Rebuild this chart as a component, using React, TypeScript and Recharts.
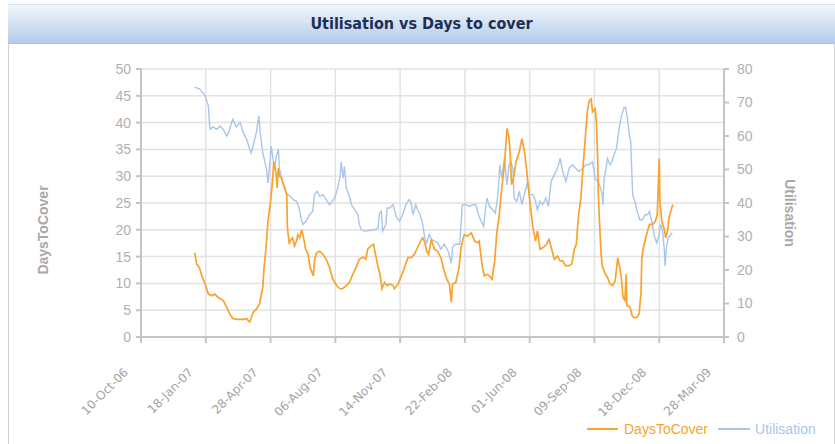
import React from 'react'
import { LineChart, Line, XAxis, YAxis, CartesianGrid } from 'recharts'

// x positions are days since 10-Oct-06
const xTickDays = [0, 100, 200, 300, 400, 500, 600, 700, 800, 900]
const xTickLabels = [
    '10-Oct-06', '18-Jan-07', '28-Apr-07', '06-Aug-07', '14-Nov-07',
    '22-Feb-08', '01-Jun-08', '09-Sep-08', '18-Dec-08', '28-Mar-09',
]
const coverTicks = [0, 5, 10, 15, 20, 25, 30, 35, 40, 45, 50]
const utilTicks = [0, 10, 20, 30, 40, 50, 60, 70, 80]

const coverDays = [
    83, 86, 90, 94, 99, 104, 109, 114, 119, 127, 132, 137, 142, 150, 158, 163, 168, 173, 178, 183,
    188, 190, 193, 196, 200, 203, 205, 207, 209, 210, 212, 214, 217, 219, 222, 225, 226, 229,
    230, 234, 237, 240, 242, 245, 248, 251, 254, 258, 261, 266, 268, 271, 276, 281, 286, 291, 296, 302,
    307, 311, 317, 322, 327, 332, 337, 343, 347, 350, 355, 359, 362, 366, 369, 372, 376, 380,
    384, 389, 391, 397, 402, 407, 412, 417, 422, 427, 433, 435, 438, 441, 444, 448, 453, 458,
    463, 468, 472, 476, 479, 481, 486, 491, 494, 499, 504, 510, 515, 520, 522, 527, 530, 534,
    538, 542, 546, 549, 553, 557, 561, 565, 568, 570, 572, 575, 579, 584, 588, 592, 595, 598, 602, 605,
    609, 612, 616, 621, 626, 630, 634, 638, 643, 647, 651, 655, 661, 665, 669, 672, 675, 679, 683, 687, 689,
    692, 695, 697, 701, 703, 705, 706, 708, 710, 712, 717, 720, 724, 728, 732, 736, 739, 742, 744, 747,
    749, 750, 755, 758, 761, 766, 769, 772, 773, 775, 778, 782, 785, 790, 794, 797, 800, 801, 804, 808,
    810, 813, 815, 818, 821,
]
const coverValues = [
    15.7, 13.6, 13, 11.4, 9.9, 8, 7.7, 8, 7.4, 6.8, 5.6, 4.3, 3.4, 3.3, 3.3, 3.4, 2.8, 4.6, 5.2, 6.2,
    9.3, 13, 16.7, 21.6, 25.3, 29, 32.7, 31.5, 30, 27.8, 31.5, 30, 29.6, 28.7, 27.8, 26.5, 20.4, 17.3,
    17.9, 18.5, 17, 17.9, 19.1, 18.5, 20, 18.5, 16.4, 15.4, 13, 11.4, 14.5, 15.7, 16, 15.4, 14.5, 13, 10.8, 9.6,
    9, 9, 9.6, 10.2, 11.7, 13, 14.5, 14.9, 14.5, 16.4, 17, 17.3, 15.4, 13, 11.7, 9, 10.2, 9.6,
    9.9, 9.6, 9, 9.9, 11.4, 13, 14.8, 14.8, 15.4, 16.7, 18.2, 18.5, 17.6, 16, 15.4, 18.2, 16.4, 16,
    14.8, 12.3, 10.8, 9.9, 6.5, 9.9, 10.2, 13, 16.7, 19.1, 18.8, 19.4, 17.9, 17.6, 17.9, 13, 11.4, 11.7,
    11.4, 10.8, 14.2, 19.1, 22.8, 27.8, 32.1, 38.9, 37.3, 34, 28.4, 29.6, 32.7, 34.6, 37, 34.6, 31.5, 27.8, 23.5, 20.4,
    17.9, 19.8, 16.4, 16.7, 17.3, 18.2, 16.4, 14.5, 15.1, 14.2, 14.2, 13.3, 13.3, 13.6, 16.4, 17.3, 22.2, 25.9, 32.7, 38.9, 42,
    44.1, 44.4, 42, 42.6, 40.1, 33.3, 26.5, 21, 16, 13.3, 11.7, 11.1, 9.9, 9.6, 10.5, 14.8, 13, 10.5, 7.4, 6.8,
    11.7, 5.9, 5.6, 4, 3.6, 3.7, 4.3, 8.6, 14.2, 16.4, 17.9, 19.8, 21, 21, 21.6, 22.8, 33.3, 25.3, 21.6, 20,
    18.5, 19.8, 22.2, 23.5, 24.7,
]

const utilDays = [
    83, 91, 99, 104, 106, 107, 111, 117, 122, 127, 132, 135, 140, 142, 147, 153, 158, 163, 168, 170,
    173, 178, 182, 184, 188, 194, 196, 199, 201, 204, 206, 209, 212, 214, 219, 224,
    230, 235, 240, 244, 248, 250, 255, 260, 265, 268, 272, 276, 281, 286, 291, 295, 299, 303, 307, 309,
    312, 314, 317, 321, 325, 330, 335, 337, 340, 345, 353, 361, 366, 368, 371, 373, 378, 380,
    384, 389, 394, 399, 404, 409, 414, 417, 420, 424, 427, 431, 435, 438, 441, 445, 449, 453, 458, 463,
    468, 474, 479, 481, 485, 492, 494, 496, 502, 507, 512, 517, 521, 525, 529, 532, 534,
    538, 543, 547, 551, 554, 557, 561, 565, 568, 571, 574, 576, 580, 584, 588, 593, 597, 600, 605, 609,
    612, 616, 620, 625, 629, 633, 638, 643, 647, 651, 656, 661, 666, 671, 676, 682, 687,
    692, 697, 701, 705, 708, 712, 713, 715, 718, 720, 724, 727, 730, 734, 738, 742, 746, 748, 751, 754,
    756, 759, 763, 766, 770, 774, 778, 782, 785, 789, 792, 796, 800, 802, 805, 808, 809, 811, 814, 818, 820,
]
const utilValues = [
    74.6, 74, 72, 69, 63, 62, 62.7, 62, 63, 62, 60, 61, 64, 65, 62.7, 64, 61, 59, 56, 55,
    57, 61, 66, 61, 55, 50, 46, 52, 57, 53, 50, 54, 56, 50, 46, 43,
    42, 41, 40.5, 38.5, 34.6, 33.6, 34.6, 36.5, 37.5, 42.5, 43.5, 42, 42.5, 41, 39.5, 40.5, 41.5, 44, 47.4, 52.3,
    47.4, 50.9, 44.4, 42.5, 39.5, 38, 36.5, 33.6, 32, 31.6, 31.8, 32, 32.6, 37, 37.5, 31.6, 33.6, 38.5,
    38.5, 39.5, 36, 34.6, 36.5, 39.5, 41, 40, 36.5, 39.5, 38, 36.5, 33.6, 29.6, 28.1, 30.6, 29.1, 28.6, 28.1, 26.2,
    27.7, 25.7, 22, 26.7, 27.7, 27.7, 33.6, 39.5, 39.5, 39, 39.5, 39.5, 36.5, 34.6, 33, 38.5, 41.5,
    39, 38, 37, 42.5, 51.4, 47.4, 53.3, 45.4, 51.4, 52.3, 50.4, 41.5, 40.5, 43.5, 39.5, 43.5, 46.4, 42.5, 42.5, 40.5,
    38, 40.5, 39.5, 41.5, 39, 46.4, 48.4, 50.4, 53.3, 49.4, 46.4, 50.4, 51.4, 50.4, 49.4, 50.4, 51.4,
    51.5, 52.3, 47.4, 46.4, 45.4, 42.5, 39.5, 47.4, 50.4, 53.3, 51.4, 52.3, 54.3, 56.3, 62.2, 66.2, 68.6, 68.6, 65.2, 60.2,
    58.3, 42.5, 40, 37.5, 35, 35, 36.5, 36.5, 37.5, 34, 30.6, 28.1, 30.6, 33.6, 32, 25.7, 21.2, 26.7, 29.6, 30.6, 31.1,
]

const coverData = coverDays.map((day, i) => ({ day, value: coverValues[i] }))
const utilData = utilDays.map((day, i) => ({ day, value: utilValues[i] }))

const ORANGE = '#F9A22C'
const BLUE = '#A9C6EA'
const AXIS = '#c4c4c4'
const TICK_TEXT = '#b0b0b0'

function DateTick({ x, y, payload }: any) {
    const label = xTickLabels[xTickDays.indexOf(payload.value)] ?? ''
    return (
        <g transform={`translate(${x - 12},${y + 28})`}>
            <text textAnchor="end" transform="rotate(-45)" fill="#a3a3a3" fontSize={12}
                fontFamily="'DejaVu Sans', sans-serif">{label}</text>
        </g>
    )
}

export default function App() {
    return (
        <div style={{ position: 'relative', width: 835, height: 444, overflow: 'hidden', background: '#fff' }}>
            <style>{'body{margin:0}'}</style>
            {/* panel frame */}
            <div style={{
                position: 'absolute', left: 8, top: 43, width: 825, height: 420,
                borderLeft: '1px solid #d2d2d2', borderRight: '1px solid #d2d2d2',
            }} />
            {/* title bar */}
            <div style={{
                position: 'absolute', left: 8, top: 4, width: 827, height: 38,
                background: 'linear-gradient(#f2f6fb 0%, #d6e3f3 45%, #b3cbea 100%)',
                borderTop: '1px solid #d8e2ee', borderBottom: '1px solid #aac0de',
                textAlign: 'center', lineHeight: '38px', color: '#1d2f55',
                fontFamily: "'Liberation Sans Narrow', 'DejaVu Sans Condensed', sans-serif",
                fontWeight: 'bold', fontSize: 16,
            }}>
                Utilisation vs Days to cover
            </div>

            <div style={{ position: 'absolute', left: 0, top: 0 }}>
                <LineChart width={835} height={444} margin={{ top: 69, right: 0, bottom: 0, left: 0 }}>
                    <CartesianGrid yAxisId="left" stroke="#e2e2e2" strokeWidth={1.5} />
                    <XAxis
                        dataKey="day"
                        type="number"
                        domain={[0, 900]}
                        ticks={xTickDays}
                        interval={0}
                        height={107}
                        tick={<DateTick />}
                        stroke={AXIS}
                        strokeWidth={2}
                        tickSize={6}
                    />
                    <YAxis
                        yAxisId="left"
                        domain={[0, 50]}
                        ticks={coverTicks}
                        width={141}
                        stroke={AXIS}
                        strokeWidth={2}
                        tickSize={5}
                        tickMargin={5}
                        tick={{ fill: TICK_TEXT, fontSize: 14, fontFamily: "'Liberation Sans', sans-serif" }}
                    />
                    <YAxis
                        yAxisId="right"
                        orientation="right"
                        domain={[0, 80]}
                        ticks={utilTicks}
                        width={111}
                        stroke={AXIS}
                        strokeWidth={2}
                        tickSize={5}
                        tickMargin={8}
                        tick={{ fill: TICK_TEXT, fontSize: 14, fontFamily: "'Liberation Sans', sans-serif" }}
                    />
                    <Line
                        yAxisId="right"
                        data={utilData}
                        dataKey="value"
                        name="Utilisation"
                        stroke={BLUE}
                        strokeWidth={1.4}
                        dot={false}
                        isAnimationActive={false}
                    />
                    <Line
                        yAxisId="left"
                        data={coverData}
                        dataKey="value"
                        name="DaysToCover"
                        stroke={ORANGE}
                        strokeWidth={1.7}
                        dot={false}
                        isAnimationActive={false}
                    />
                </LineChart>
            </div>

            {/* axis titles */}
            <div style={{
                position: 'absolute', left: 43, top: 230, transform: 'translate(-50%,-50%) rotate(-90deg)',
                color: '#a8a8a8', fontWeight: 'bold', fontSize: 14, whiteSpace: 'nowrap',
                fontFamily: "'Liberation Sans', sans-serif",
            }}>DaysToCover</div>
            <div style={{
                position: 'absolute', left: 790, top: 213, transform: 'translate(-50%,-50%) rotate(90deg)',
                color: '#a8a8a8', fontWeight: 'bold', fontSize: 14, whiteSpace: 'nowrap',
                fontFamily: "'Liberation Sans', sans-serif",
            }}>Utilisation</div>

            {/* legend */}
            <div style={{
                position: 'absolute', left: 587, top: 421, display: 'flex', alignItems: 'center',
                fontFamily: "'Liberation Sans', sans-serif", fontSize: 14, whiteSpace: 'nowrap',
            }}>
                <span style={{ display: 'inline-block', width: 31, height: 2, background: ORANGE, marginRight: 6 }} />
                <span style={{ color: ORANGE, marginRight: 10 }}>DaysToCover</span>
                <span style={{ display: 'inline-block', width: 32, height: 2, background: BLUE, marginRight: 5 }} />
                <span style={{ color: BLUE }}>Utilisation</span>
            </div>
        </div>
    )
}
